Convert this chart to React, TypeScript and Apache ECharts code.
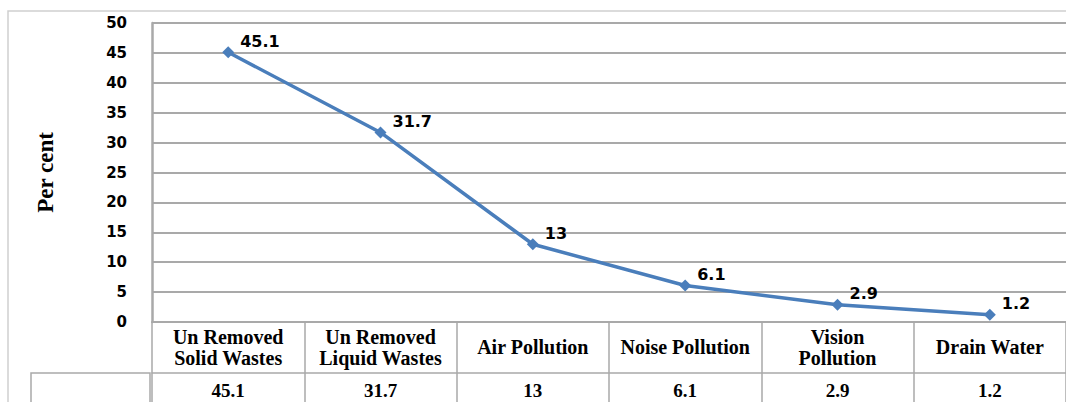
import React, { useEffect, useRef } from "react";
import * as echarts from "echarts";

const categories = [
  "Un Removed\nSolid Wastes",
  "Un Removed\nLiquid Wastes",
  "Air Pollution",
  "Noise Pollution",
  "Vision\nPollution",
  "Drain Water",
];
const values = [45.1, 31.7, 13, 6.1, 2.9, 1.2];
const yTicks = { min: 0, max: 50, interval: 5 };
const yAxisTitle = "Per cent";

const GRAY = "#a9a9a9";
const SERIF = "Liberation Serif";

export default function App() {
  const ref = useRef<HTMLDivElement>(null);
  useEffect(() => {
    if (!ref.current) return;
    const chart = echarts.init(ref.current, undefined, { renderer: "svg" });
    const valueLabels = values.map((v) => String(v));
    chart.setOption({
      animation: false,
      backgroundColor: "#ffffff",
      textStyle: { fontFamily: SERIF },
      grid: { left: 152, right: -10, top: 23, bottom: 80, containLabel: false },
      xAxis: [
        {
          type: "category",
          data: categories,
          position: "bottom",
          boundaryGap: true,
          axisLine: { show: true, lineStyle: { color: GRAY, width: 2 } },
          axisTick: {
            show: true,
            length: 82,
            alignWithLabel: false,
            interval: 0,
            lineStyle: { color: GRAY, width: 1.5 },
          },
          axisLabel: {
            interval: 0,
            margin: 25,
            verticalAlign: "middle",
            formatter: (v: string) =>
              v.split("\n").map((s) => `{c|${s}}`).join("\n"),
            rich: {
              c: {
                color: "#000",
                fontFamily: SERIF,
                fontWeight: "bold",
                fontSize: 20,
                lineHeight: 21,
              },
            },
          },
          splitLine: { show: false },
        },
        {
          type: "category",
          data: valueLabels,
          position: "bottom",
          offset: 51,
          boundaryGap: true,
          axisLine: { show: true, lineStyle: { color: GRAY, width: 1.5 } },
          axisTick: { show: false },
          axisLabel: {
            interval: 0,
            margin: 17,
            verticalAlign: "middle",
            formatter: (v: string) => `{v|${v}}`,
            rich: {
              v: {
                color: "#000",
                fontFamily: SERIF,
                fontWeight: "bold",
                fontSize: 19,
              },
            },
          },
          splitLine: { show: false },
        },
      ],
      yAxis: {
        type: "value",
        min: yTicks.min,
        max: yTicks.max,
        interval: yTicks.interval,
        name: yAxisTitle,
        nameLocation: "middle",
        nameRotate: 90,
        nameGap: 95,
        nameTextStyle: {
          color: "#000",
          fontFamily: SERIF,
          fontWeight: "bold",
          fontSize: 23,
        },
        axisLine: { show: true, lineStyle: { color: GRAY, width: 2.5 } },
        axisTick: { show: false },
        axisLabel: {
          margin: 25,
          color: "#000",
          fontFamily: "DejaVu Sans",
          fontWeight: "bold",
          fontSize: 15,
        },
        splitLine: { show: true, lineStyle: { color: GRAY, width: 2 } },
      },
      graphic: [
        {
          type: "rect",
          shape: { x: 8, y: 11, width: 1200, height: 600 },
          style: { fill: "none", stroke: "#cfcfcf", lineWidth: 1.5 },
          silent: true,
        },
        {
          type: "rect",
          shape: { x: 31, y: 373, width: 119, height: 60 },
          style: { fill: "none", stroke: GRAY, lineWidth: 1.5 },
          silent: true,
        },
      ],
      series: [
        {
          type: "line",
          xAxisIndex: 0,
          data: values,
          symbol: "diamond",
          symbolSize: 12,
          lineStyle: { color: "#4a7ebb", width: 3.5 },
          itemStyle: { color: "#4a7ebb" },
          label: {
            show: true,
            position: "right",
            distance: 4,
            offset: [2, -11],
            color: "#000",
            fontFamily: "DejaVu Sans",
            fontWeight: "bold",
            fontSize: 16,
          },
        },
      ],
    });
    return () => chart.dispose();
  }, []);
  return (
    <div
      ref={ref}
      style={{ position: "fixed", left: 0, top: 0, width: 1066, height: 402 }}
    />
  );
}
